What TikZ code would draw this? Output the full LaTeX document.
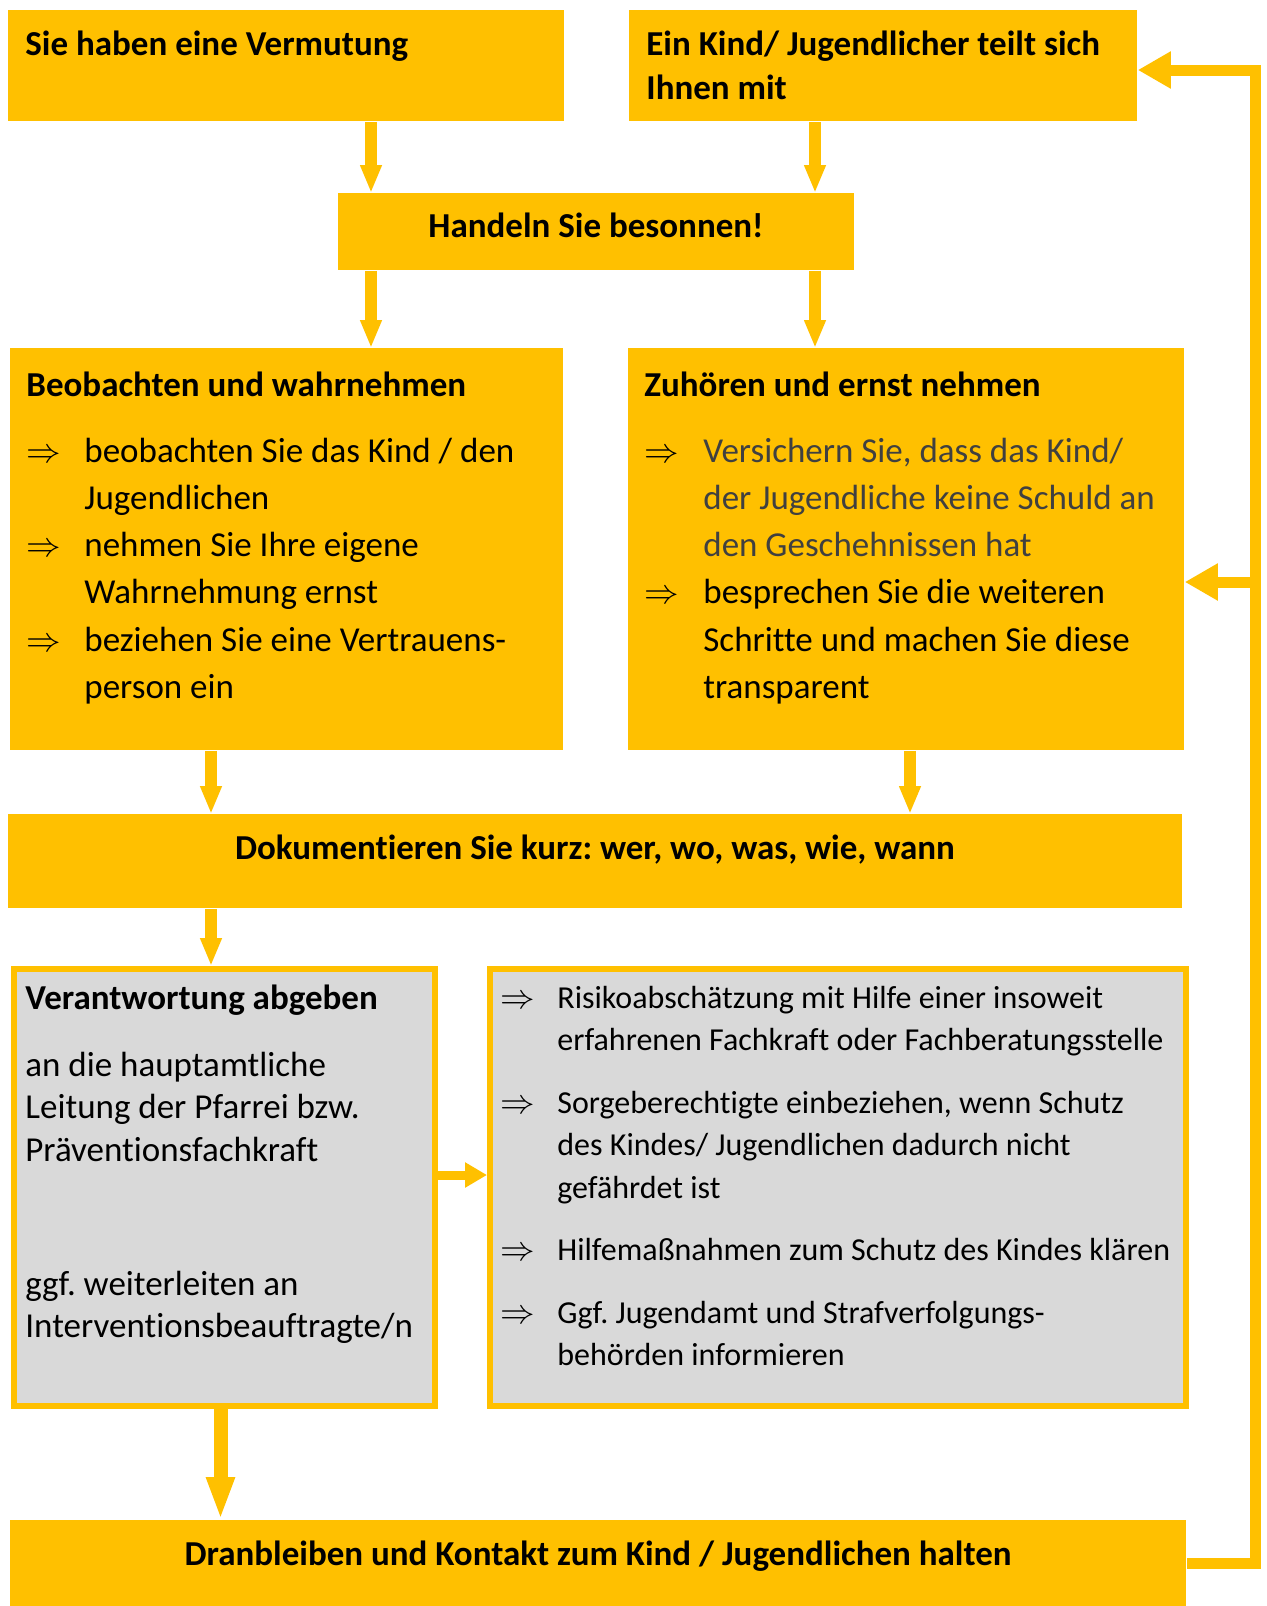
\documentclass[tikz,border=0pt]{standalone}
\usepackage{fontspec}
\setmainfont{Carlito}[Ligatures=NoCommon, WordSpace={1,0,0}]
\frenchspacing
\usetikzlibrary{arrows.meta}
\definecolor{gelb}{RGB}{255,192,0}
\definecolor{grau}{RGB}{217,217,217}
\definecolor{dunkel}{RGB}{64,64,64}
\newcommand{\pfeil}[1][29pt]{\hangindent=#1\makebox[#1][l]{$\Rightarrow$}}
\newcommand{\flatter}{\raggedright\spaceskip=0pt\xspaceskip=0pt\relax}

\tikzset{
  box/.style={fill=gelb, inner sep=0pt, anchor=north west},
  greybox/.style={fill=grau, draw=gelb, line width=3pt, inner sep=0pt, anchor=north west},
  txt/.style={inner sep=0pt, anchor=base west, execute at begin node=\flatter,
    font=\fontsize{17.5}{23.65}\selectfont},
  head/.style={txt, font=\bfseries\fontsize{17.5}{22}\selectfont},
  flow/.style={draw=gelb, line width=6pt, -{Triangle[length=14pt,width=10pt]}},
  back/.style={draw=gelb, line width=5.5pt, -{Triangle[length=16.5pt,width=17.5pt]}}
}

\begin{document}
\begin{tikzpicture}[x=1pt,y=-1pt]
  \useasboundingbox (0,0) rectangle (633,803);
  % boxes
  \node[box, minimum width=278pt, minimum height=55.5pt] (vermutung) at (4,5) {};
  \node[box, minimum width=254pt, minimum height=55.5pt] (mitteilung) at (314.5,5) {};
  \node[box, minimum width=258pt, minimum height=38.5pt] (besonnen) at (169,96.5) {};
  \node[box, minimum width=276.5pt, minimum height=201pt] (beobachten) at (5,174) {};
  \node[box, minimum width=278pt, minimum height=201pt] (zuhoeren) at (314,174) {};
  \node[box, minimum width=587pt, minimum height=47pt] (doku) at (4,407) {};
  \node[greybox, minimum width=210.5pt, minimum height=218.5pt] (abgeben) at (5.5,483) {};
  \node[greybox, minimum width=348pt, minimum height=218.5pt] (schritte) at (243.5,483) {};
  \node[box, minimum width=588pt, minimum height=43pt] (dranbleiben) at (5,760) {};

  % texts
  \node[head] (t-vermutung) at (12.5,27.5) {Sie haben eine Vermutung};
  \node[head, text width=245pt] (t-mitteilung) at (323,27.5)
    {\flatter Ein Kind/ Jugendlicher teilt sich\\Ihnen mit\par};
  \node[head, anchor=base] (t-besonnen) at (298,118.5) {Handeln Sie besonnen!};
  \node[txt, text width=265pt] (t-beobachten) at (13,198)
    {\flatter\textbf{Beobachten und wahrnehmen}\\[9.35pt]
     \pfeil beobachten Sie das Kind / den\newline Jugendlichen\\
     \pfeil nehmen Sie Ihre eigene\newline Wahrnehmung ernst\\
     \pfeil beziehen Sie eine Vertrauens-\newline person ein\par};
  \node[txt, text width=268pt] (t-zuhoeren) at (322,198)
    {\flatter\textbf{Zuhören und ernst nehmen}\\[9.35pt]
     \pfeil[29.5pt]{\color{dunkel}Versichern Sie, dass das Kind/\newline der Jugendliche keine Schuld an\newline den Geschehnissen hat}\\
     \pfeil[29.5pt]besprechen Sie die weiteren\newline Schritte und machen Sie diese\newline transparent\par};
  \node[head, anchor=base] (t-doku) at (297.5,429.5) {Dokumentieren Sie kurz: wer, wo, was, wie, wann};
  \node[txt, text width=200pt, font=\fontsize{17.5}{21.25}\selectfont] (t-abgeben) at (12.5,504.5)
    {\flatter\textbf{Verantwortung abgeben}\\[12.25pt]
     an die hauptamtliche\\Leitung der Pfarrei bzw.\\Präventionsfachkraft\\[45.75pt]
     ggf. weiterleiten an\\Interventionsbeauftragte/n\par};
  \node[txt, text width=345pt, font=\fontsize{16}{21.25}\selectfont] (t-schritte) at (250,504)
    {\flatter\pfeil[28.5pt]Risikoabschätzung mit Hilfe einer insoweit\newline erfahrenen Fachkraft oder Fachberatungsstelle\\[10pt]
     \pfeil[28.5pt]Sorgeberechtigte einbeziehen, wenn Schutz\newline des Kindes/ Jugendlichen dadurch nicht\newline gefährdet ist\\[10pt]
     \pfeil[28.5pt]Hilfemaßnahmen zum Schutz des Kindes klären\\[10pt]
     \pfeil[28.5pt]Ggf. Jugendamt und Strafverfolgungs-\newline behörden informieren\par};
  \node[head, anchor=base] (t-dranbleiben) at (299,782.5) {Dranbleiben und Kontakt zum Kind / Jugendlichen halten};

  % arrows
  \draw[flow] ([xshift=181.5pt]vermutung.south west) coordinate (a1) -- (a1 |- besonnen.north);
  \draw[flow] ([xshift=93pt]mitteilung.south west) coordinate (a2) -- (a2 |- besonnen.north);
  \draw[flow] ([xshift=16.5pt]besonnen.south west) coordinate (a3) -- (a3 |- beobachten.north);
  \draw[flow] ([xshift=238.5pt]besonnen.south west) coordinate (a4) -- (a4 |- zuhoeren.north);
  \draw[flow] ([xshift=100.5pt]beobachten.south west) coordinate (a5) -- (a5 |- doku.north);
  \draw[flow] ([xshift=141pt]zuhoeren.south west) coordinate (a6) -- (a6 |- doku.north);
  \draw[flow] ([xshift=101.5pt]doku.south west) coordinate (a7) -- (a7 |- abgeben.north);
  \draw[flow, line width=4.5pt, -{Triangle[length=11pt,width=12pt]}]
    ([yshift=-104.5pt]abgeben.north east) coordinate (a8) -- (a8 -| schritte.west);
  \draw[flow, line width=7pt, -{Triangle[length=21.5pt,width=13pt]}]
    ([xshift=-2pt]abgeben.south) coordinate (a9) -- (a9 |- dranbleiben.north);

  % back to the child
  \coordinate (oben) at (627.5,35);
  \coordinate (mitte) at (627.5,291);
  \draw[back] (dranbleiben.east) -| (oben) -- (oben -| mitteilung.east);
  \draw[back] (mitte) -- (mitte -| zuhoeren.east);
\end{tikzpicture}
\end{document}
